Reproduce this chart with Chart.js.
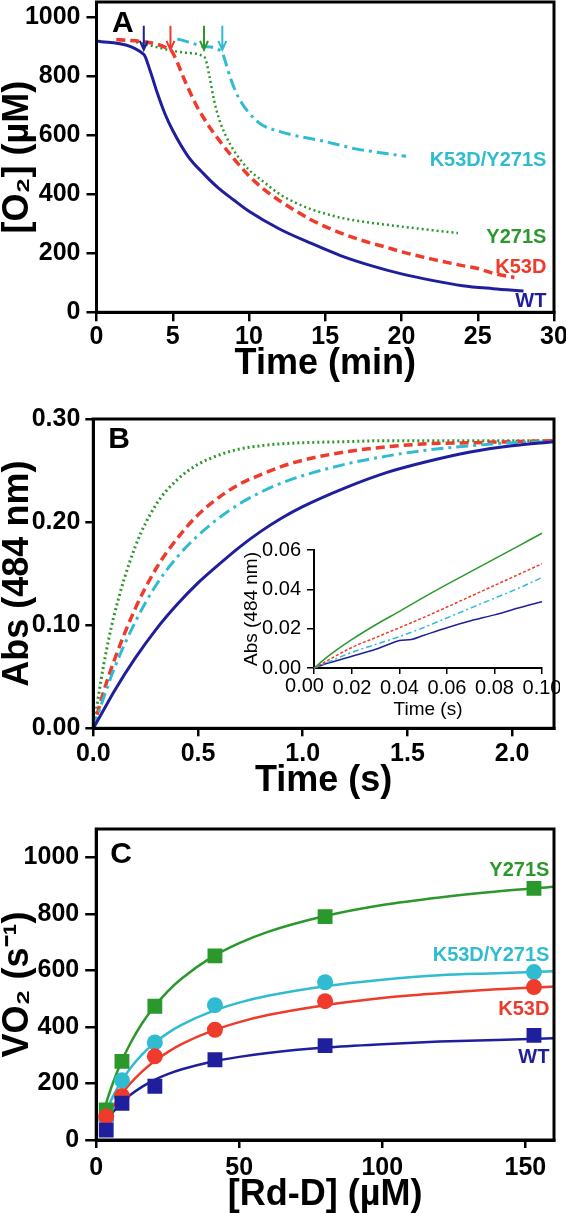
<!DOCTYPE html>
<html>
<head>
<meta charset="utf-8">
<script src="https://cdn.jsdelivr.net/npm/chart.js@4.4.0/dist/chart.umd.min.js"></script>
<style>
  html, body { margin: 0; padding: 0; background: #fff; }
  body { width: 566px; height: 1213px; position: relative; overflow: hidden; }
  .panel { position: absolute; }
</style>
</head>
<body>
<div class="panel" style="left:0;top:0;width:566px;height:385px"><canvas id="chartA"></canvas></div>
<div class="panel" style="left:0;top:385px;width:566px;height:415px"><canvas id="chartB"></canvas></div>
<div class="panel" style="left:230px;top:530px;width:330px;height:200px"><canvas id="chartInset"></canvas></div>
<div class="panel" style="left:0;top:800px;width:566px;height:413px"><canvas id="chartC"></canvas></div>
<script>
// ---- Panel A: O2 consumption traces (time in min, [O2] in uM) ----
const aTimeWT = [0, 3.1, 3.5, 4, 4.5, 5, 6, 7, 8, 9, 10, 12, 14, 16, 18, 20, 22, 24, 26, 28];
const aO2WT = [918, 873, 820, 740, 670, 615, 528, 470, 420, 380, 342, 282, 235, 192, 158, 130, 108, 90, 80, 72];
const aTimeK53D = [1.3, 4.85, 5.3, 5.7, 6, 6.5, 7, 7.5, 8, 9, 10, 11, 12, 13, 14, 15, 17, 19, 20, 22, 24, 25, 26, 27.4];
const aO2K53D = [923, 888, 845, 795, 760, 705, 660, 620, 585, 520, 462, 415, 378, 345, 315, 290, 250, 220, 205, 180, 158, 148, 132, 118];
const aTimeY271S = [2.6, 5.9, 7.1, 7.4, 7.7, 8, 8.5, 9, 9.5, 10, 11, 12, 13, 14, 15, 16, 18, 20, 22, 23.7];
const aO2Y271S = [914, 878, 862, 800, 720, 660, 595, 548, 512, 482, 440, 400, 372, 350, 334, 320, 303, 290, 278, 268];
const aTimeDbl = [5.3, 6, 7, 8.2, 8.5, 8.8, 9.1, 9.5, 10, 10.5, 11, 12, 13, 14, 15, 16, 17, 18, 19, 20.3];
const aO2Dbl = [925, 915, 900, 882, 840, 790, 750, 710, 675, 648, 630, 612, 598, 588, 578, 565, 553, 545, 537, 528];
const aArrowTimes = [3.1, 4.85, 7.05, 8.25];
const aXTicks = [0, 5, 10, 15, 20, 25, 30];
const aYTicks = [0, 200, 400, 600, 800, 1000];

// ---- Panel B: Abs 484 nm vs time (s) ----
const bTime = [0, 0.05, 0.1, 0.2, 0.3, 0.4, 0.5, 0.6, 0.7, 0.8, 0.9, 1.0, 1.2, 1.4, 1.6, 1.8, 2.0, 2.2];
const bWT = [0, 0.018, 0.036, 0.068, 0.096, 0.120, 0.141, 0.159, 0.176, 0.191, 0.204, 0.215, 0.233, 0.248, 0.259, 0.268, 0.274, 0.278];
const bDbl = [0, 0.030, 0.058, 0.103, 0.139, 0.166, 0.187, 0.204, 0.218, 0.229, 0.238, 0.245, 0.256, 0.264, 0.270, 0.274, 0.277, 0.278];
const bK53D = [0, 0.036, 0.066, 0.116, 0.155, 0.184, 0.207, 0.224, 0.237, 0.246, 0.254, 0.260, 0.268, 0.273, 0.276, 0.277, 0.278, 0.279];
const bY271S = [0, 0.062, 0.110, 0.176, 0.217, 0.241, 0.256, 0.265, 0.271, 0.274, 0.276, 0.277, 0.278, 0.279, 0.279, 0.279, 0.279, 0.279];
const bXTicks = [0, 0.5, 1.0, 1.5, 2.0];
const bYTicks = [0, 0.10, 0.20, 0.30];

// inset (first 0.1 s)
const iTime = [0.004, 0.01, 0.02, 0.03, 0.04, 0.05, 0.06, 0.07, 0.08, 0.09, 0.10];
const iY271S = [0, 0.006, 0.0145, 0.022, 0.0288, 0.0358, 0.0425, 0.049, 0.0555, 0.062, 0.0685];
const iK53D = [0, 0.004, 0.0105, 0.0155, 0.0205, 0.0256, 0.031, 0.0365, 0.042, 0.0475, 0.053];
const iDbl = [0, 0.003, 0.008, 0.012, 0.016, 0.0205, 0.0255, 0.0305, 0.0355, 0.0405, 0.046];
const iTimeWT = [0.004, 0.01, 0.02, 0.03, 0.035, 0.04, 0.045, 0.05, 0.06, 0.07, 0.08, 0.09, 0.10];
const iWT = [0, 0.0025, 0.006, 0.0095, 0.0118, 0.014, 0.0145, 0.0165, 0.0205, 0.024, 0.027, 0.0305, 0.0337];
const iXTicks = [0.004, 0.02, 0.04, 0.06, 0.08, 0.10];
const iYTicks = [0, 0.02, 0.04, 0.06];

// ---- Panel C: VO2 vs [Rd-D] ----
const cConc = [3.5, 9, 20.5, 41.5, 80, 153];
const cWT = [35, 130, 190, 284, 334, 370];
const cK53D = [83, 156, 296, 390, 491, 541];
const cDbl = [71, 211, 345, 477, 558, 594];
const cY271S = [106, 278, 473, 651, 790, 890];
const cFitConc = [2, 4, 6, 9, 12, 16, 20, 25, 30, 40, 50, 60, 80, 100, 120, 140, 160];
const cFitWT = [40, 73, 100, 133, 160, 188, 211, 233, 250, 276, 294, 308, 327, 339, 348, 354, 360];
const cFitK53D = [46, 85, 120, 164, 201, 242, 276, 311, 340, 384, 417, 442, 477, 502, 519, 533, 543];
const cFitDbl = [62, 113, 157, 211, 255, 302, 340, 378, 408, 453, 486, 510, 544, 567, 583, 590, 597];
const cFitY271S = [79, 147, 206, 281, 343, 412, 468, 526, 572, 644, 696, 736, 792, 831, 858, 879, 896];
const cXTicks = [0, 50, 100, 150];
const cYTicks = [0, 200, 400, 600, 800, 1000];

const FONT = "'Liberation Sans', Arial, Helvetica, sans-serif";
const BLUE = '#1f1f9e', RED = '#ee3b2b', GREEN = '#2b982b', CYAN = '#30bcd0';

function pts(xs, ys) { return xs.map((x, i) => ({ x: x, y: ys[i] })); }
function fixedTicks(values) { return s => { s.ticks = values.map(v => ({ value: v })); }; }

// frame, panel letter, text notes and arrows
const extrasPlugin = {
  id: 'extras',
  afterDatasetsDraw(chart, args, opts) {
    const { ctx, chartArea: a, scales } = chart;
    ctx.save();
    if (opts.frame) {
      ctx.strokeStyle = '#000';
      ctx.lineWidth = 3;
      ctx.strokeRect(a.left, a.top, a.right - a.left, a.bottom - a.top);
    }
    if (opts.letter) {
      ctx.fillStyle = '#000';
      ctx.font = 'bold 30px ' + FONT;
      ctx.textAlign = 'left';
      ctx.textBaseline = 'alphabetic';
      ctx.fillText(opts.letter, a.left + opts.letterDx, a.top + opts.letterDy);
    }
    (opts.notes || []).forEach(n => {
      ctx.fillStyle = n.color;
      ctx.font = 'bold 20px ' + FONT;
      ctx.textAlign = 'right';
      ctx.textBaseline = 'middle';
      ctx.fillText(n.text, scales.x.getPixelForValue(n.x), scales.y.getPixelForValue(n.y));
    });
    if (opts.arrows) {
      const ar = opts.arrows;
      ar.times.forEach((t, i) => {
        const x = scales.x.getPixelForValue(t);
        const y1 = scales.y.getPixelForValue(ar.top);
        const y2 = scales.y.getPixelForValue(ar.bottom);
        ctx.strokeStyle = ar.colors[i];
        ctx.lineWidth = 2;
        ctx.beginPath();
        ctx.moveTo(x, y1); ctx.lineTo(x, y2);
        ctx.moveTo(x - 4, y2 - 9); ctx.lineTo(x, y2); ctx.lineTo(x + 4, y2 - 9);
        ctx.stroke();
      });
    }
    if (opts.zeroLabel) {
      const sx = scales.x;
      ctx.fillStyle = '#000';
      ctx.font = '20px ' + FONT;
      ctx.textAlign = 'center';
      ctx.textBaseline = 'top';
      ctx.fillText('0.00', sx.getPixelForValue(0), a.bottom + opts.zeroLabel);
    }
    ctx.restore();
  }
};

function scaleSet(o) {
  const tickFont = { family: FONT, size: o.tickSize || 25, weight: o.bold === false ? 'normal' : 'bold' };
  const titleFont = { family: FONT, size: o.titleSize || 36, weight: o.bold === false ? 'normal' : 'bold', lineHeight: 1 };
  const lw = o.axisWidth || 3;
  return {
    x: {
      type: 'linear', min: o.xMin, max: o.xMax,
      afterBuildTicks: fixedTicks(o.xTicks),
      afterFit: s => { s.height = o.xHeight; s.paddingLeft = 0; s.paddingRight = 0; },
      ticks: { color: '#000', font: tickFont, padding: o.xPad, maxRotation: 0, autoSkip: false, callback: o.xFmt },
      grid: { drawOnChartArea: false, drawTicks: true, tickLength: o.xTickLen, tickWidth: lw - 0.5, lineWidth: lw - 0.5, tickColor: '#000', color: '#000' },
      border: { display: true, color: '#000', width: lw },
      title: { display: true, text: o.xTitle, color: '#000', font: titleFont, padding: { top: 0, bottom: o.xTitlePad } }
    },
    y: {
      type: 'linear', min: o.yMin, max: o.yMax,
      afterBuildTicks: fixedTicks(o.yTicks),
      afterFit: s => { s.width = o.yWidth; s.paddingTop = 0; s.paddingBottom = 0; },
      ticks: { color: '#000', font: tickFont, padding: o.yPad, autoSkip: false, callback: o.yFmt },
      grid: { drawOnChartArea: false, drawTicks: true, tickLength: o.yTickLen, tickWidth: lw - 0.5, lineWidth: lw - 0.5, tickColor: '#000', color: '#000' },
      border: { display: true, color: '#000', width: lw },
      title: { display: true, text: o.yTitle, color: '#000', font: titleFont, padding: { top: o.yTitlePad || 0, bottom: 0 } }
    }
  };
}

function lineSet(data, color, width, dash) {
  return {
    data: data, borderColor: color, backgroundColor: color, borderWidth: width,
    borderDash: dash || [], pointRadius: 0, fill: false,
    cubicInterpolationMode: 'monotone'
  };
}

const commonOpts = {
  responsive: true, maintainAspectRatio: false, animation: false,
  events: []
};

// Panel A
new Chart(document.getElementById('chartA'), {
  type: 'line',
  data: {
    datasets: [
      lineSet(pts(aTimeWT, aO2WT), BLUE, 3),
      lineSet(pts(aTimeK53D, aO2K53D), RED, 3.5, [9, 5]),
      lineSet(pts(aTimeY271S, aO2Y271S), GREEN, 2.5, [2, 3]),
      lineSet(pts(aTimeDbl, aO2Dbl), CYAN, 3, [12, 5, 3, 5])
    ]
  },
  options: Object.assign({}, commonOpts, {
    layout: { padding: { top: 2, right: 12, left: 0, bottom: 0 } },
    plugins: {
      legend: { display: false }, tooltip: { enabled: false },
      extras: {
        frame: true, letter: 'A', letterDx: 15.5, letterDy: 30,
        notes: [
          { text: 'K53D/Y271S', x: 29.5, y: 513, color: CYAN },
          { text: 'Y271S', x: 29.5, y: 254, color: GREEN },
          { text: 'K53D', x: 29.5, y: 153, color: RED },
          { text: 'WT', x: 29.5, y: 35, color: BLUE }
        ],
        arrows: { times: aArrowTimes, top: 970, bottom: 888, colors: [BLUE, RED, GREEN, CYAN] }
      }
    },
    scales: scaleSet({
      xMin: 0, xMax: 30, yMin: 0, yMax: 1050, xTicks: aXTicks, yTicks: aYTicks,
      xFmt: v => String(v), yFmt: v => String(v),
      xTitle: 'Time (min)', yTitle: '[O\u2082] (\u00b5M)',
      yWidth: 96.5, xHeight: 72.7, xTickLen: 9, yTickLen: 10, xPad: 1, yPad: 6, xTitlePad: 3
    })
  }),
  plugins: [extrasPlugin]
});

// Panel B
new Chart(document.getElementById('chartB'), {
  type: 'line',
  data: {
    datasets: [
      lineSet(pts(bTime, bWT), BLUE, 3),
      lineSet(pts(bTime, bDbl), CYAN, 3, [12, 5, 3, 5]),
      lineSet(pts(bTime, bK53D), RED, 3.5, [9, 5]),
      lineSet(pts(bTime, bY271S), GREEN, 3, [2, 3])
    ]
  },
  options: Object.assign({}, commonOpts, {
    layout: { padding: { top: 34, right: 12, left: 0, bottom: 0 } },
    plugins: {
      legend: { display: false }, tooltip: { enabled: false },
      extras: { frame: true, letter: 'B', letterDx: 15, letterDy: 29 }
    },
    scales: scaleSet({
      xMin: 0, xMax: 2.2, yMin: 0, yMax: 0.30, xTicks: bXTicks, yTicks: bYTicks,
      xFmt: v => v.toFixed(1), yFmt: v => v.toFixed(2),
      xTitle: 'Time (s)', yTitle: 'Abs (484 nm)',
      yWidth: 93.3, xHeight: 71.7, xTickLen: 8, yTickLen: 8, xPad: 3, yPad: 5, xTitlePad: 1
    })
  }),
  plugins: [extrasPlugin]
});

// Inset of panel B
function insetSet(xs, ys, color, dash) {
  const d = lineSet(pts(xs, ys), color, 1.5, dash);
  d.clip = false;
  return d;
}
new Chart(document.getElementById('chartInset'), {
  type: 'line',
  data: {
    datasets: [
      insetSet(iTime, iY271S, GREEN),
      insetSet(iTime, iK53D, RED, [3, 2]),
      insetSet(iTime, iDbl, CYAN, [6, 3, 2, 3]),
      insetSet(iTimeWT, iWT, BLUE)
    ]
  },
  options: Object.assign({}, commonOpts, {
    layout: { padding: { top: 20, right: 18, left: 0, bottom: 0 } },
    plugins: {
      legend: { display: false }, tooltip: { enabled: false },
      extras: { zeroLabel: 8 }
    },
    scales: scaleSet({
      xMin: 0.004, xMax: 0.10, yMin: 0, yMax: 0.06, xTicks: iXTicks, yTicks: iYTicks,
      xFmt: v => (v < 0.01 ? '' : v.toFixed(2)), yFmt: v => v.toFixed(2),
      xTitle: 'Time (s)', yTitle: 'Abs (484 nm)',
      bold: false, tickSize: 20, titleSize: 19, axisWidth: 2,
      yWidth: 84, xHeight: 62, xTickLen: 6, yTickLen: 7, xPad: 2, yPad: 6, xTitlePad: 10.5, yTitlePad: 12.5
    })
  }),
  plugins: [extrasPlugin]
});

// Panel C
function markerSet(ys, color, style, r) {
  return {
    data: pts(cConc, ys), borderColor: color, backgroundColor: color, showLine: false,
    pointStyle: style, pointRadius: r, pointBorderWidth: 0, order: 0
  };
}
function fitSet(ys, color) {
  const d = lineSet(pts(cFitConc, ys), color, 2.5);
  d.order = 1;
  return d;
}
new Chart(document.getElementById('chartC'), {
  type: 'line',
  data: {
    datasets: [
      markerSet(cWT, BLUE, 'rect', 10.5),
      markerSet(cK53D, RED, 'circle', 8),
      markerSet(cDbl, CYAN, 'circle', 8),
      markerSet(cY271S, GREEN, 'rect', 10.5),
      fitSet(cFitWT, BLUE),
      fitSet(cFitK53D, RED),
      fitSet(cFitDbl, CYAN),
      fitSet(cFitY271S, GREEN)
    ]
  },
  options: Object.assign({}, commonOpts, {
    layout: { padding: { top: 29, right: 12, left: 0, bottom: 0 } },
    plugins: {
      legend: { display: false }, tooltip: { enabled: false },
      extras: {
        frame: true, letter: 'C', letterDx: 14, letterDy: 34,
        notes: [
          { text: 'Y271S', x: 158.4, y: 952, color: GREEN },
          { text: 'K53D/Y271S', x: 158.4, y: 651, color: CYAN },
          { text: 'K53D', x: 158.4, y: 461, color: RED },
          { text: 'WT', x: 158.4, y: 291, color: BLUE }
        ]
      }
    },
    scales: scaleSet({
      xMin: 0, xMax: 160, yMin: 0, yMax: 1100, xTicks: cXTicks, yTicks: cYTicks,
      xFmt: v => String(v), yFmt: v => String(v),
      xTitle: '[Rd-D] (\u00b5M)', yTitle: 'VO\u2082 (s\u207b\u00b9)',
      yWidth: 96.2, xHeight: 73, xTickLen: 8, yTickLen: 11, xPad: 5, yPad: 6, xTitlePad: 0
    })
  }),
  plugins: [extrasPlugin]
});
</script>
</body>
</html>
